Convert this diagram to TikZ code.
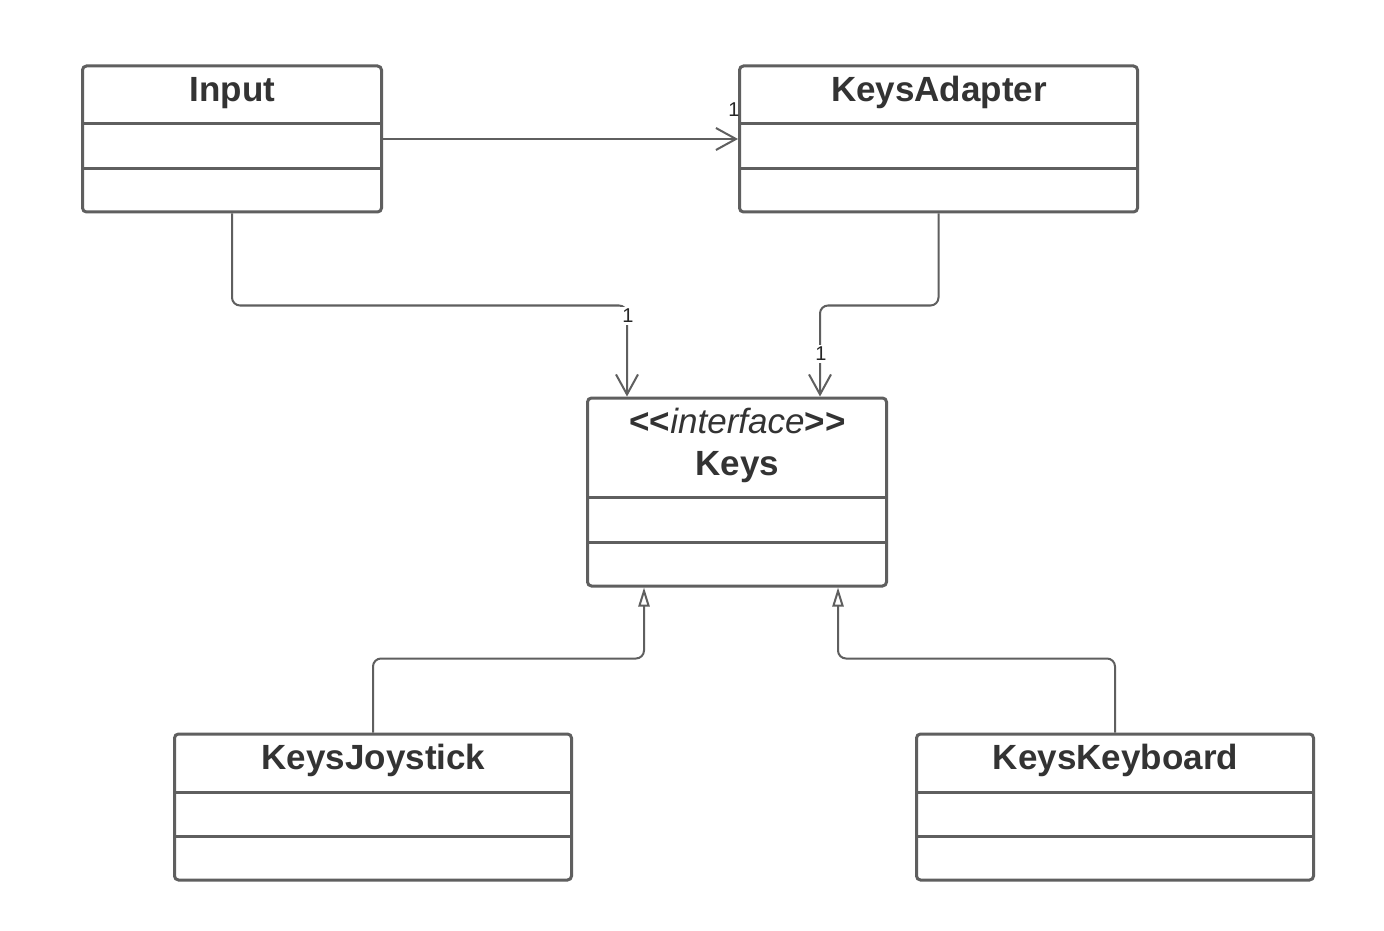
\documentclass[tikz,border=0pt]{standalone}
\usepackage{fontspec}
\setmainfont{Liberation Sans}
\usetikzlibrary{arrows.meta,calc}
\definecolor{linec}{RGB}{95,95,95}
\definecolor{textc}{RGB}{51,51,51}
\tikzset{
  classbox/.style={draw=linec, line width=1.5pt, rounded corners=2pt, inner sep=0pt},
  divider/.style={draw=linec, line width=1.5pt},
  title/.style={text=textc, font=\fontsize{17.5}{21}\selectfont\bfseries, inner sep=0pt, anchor=base},
  conn/.style={draw=linec, line width=1pt, rounded corners=4pt},
  assoc/.style={conn, -{Straight Barb[length=10pt,width=11pt,line width=1pt]}},
  gen/.style={conn, -{Triangle[open,length=9.5pt,width=5.6pt,line width=1pt]}},
  mult/.style={text=black!85, font=\fontsize{10}{11}\selectfont, fill=white, inner sep=1pt}
}
\begin{document}
\begin{tikzpicture}[x=0.5pt,y=-0.5pt]
\useasboundingbox[fill=white] (0,0) rectangle (1384,930);
% boxes
\node[classbox, minimum width=149.5pt, minimum height=73pt] (input) at (232,139) {};
\node[classbox, minimum width=199pt, minimum height=73pt] (adapter) at (938.5,139) {};
\node[classbox, minimum width=149.5pt, minimum height=94pt] (keys) at (737,492) {};
\node[classbox, minimum width=198.5pt, minimum height=73pt] (joy) at (373,807) {};
\node[classbox, minimum width=198.5pt, minimum height=73pt] (kbd) at (1115,807) {};
% dividers
\foreach \n in {input,adapter}{
  \draw[divider] (\n.west |- 0,124) -- (\n.east |- 0,124);
  \draw[divider] (\n.west |- 0,169) -- (\n.east |- 0,169);
}
\foreach \n in {joy,kbd}{
  \draw[divider] (\n.west |- 0,792) -- (\n.east |- 0,792);
  \draw[divider] (\n.west |- 0,836) -- (\n.east |- 0,836);
}
\draw[divider] (keys.west |- 0,497) -- (keys.east |- 0,497);
\draw[divider] (keys.west |- 0,542) -- (keys.east |- 0,542);
% titles
\node[title] (tinput) at (232.5,101.5) {Input};
\node[title] (tadapter) at (939,101.5) {KeysAdapter};
\node[title] (tiface) at (737.5,433.5) {<{}<\textit{\mdseries interface}>{}>};
\node[title] (tkeys) at (737.5,475.5) {Keys};
\node[title] (tjoy) at (373.5,769.5) {KeysJoystick};
\node[title] (tkbd) at (1115.5,769.5) {KeysKeyboard};
% connectors
\draw[assoc] (input.east) -- (adapter.west);
\draw[assoc] (input.south) -- ++(0,92) -| ([xshift=20.5pt]keys.north west);
\draw[assoc] (adapter.south) -- ++(0,92) -| ([xshift=117pt]keys.north west);
\draw[gen] (joy.north) -- ++(0,-74) -| ([xshift=29pt]keys.south west);
\draw[gen] (kbd.north) -- ++(0,-74) -| ([xshift=126pt]keys.south west);
% multiplicities
\node[mult, fill=none, anchor=east] (m1) at (742,110) {1};
\node[mult] (m2) at (628,316) {1};
\node[mult] (m3) at (821,354) {1};
\end{tikzpicture}
\end{document}
